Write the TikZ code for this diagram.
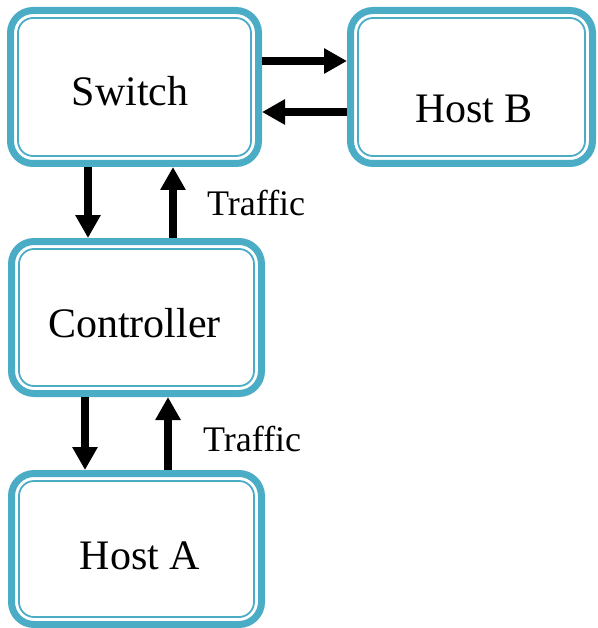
\documentclass[tikz,border=0pt]{standalone}
\usepackage{fontspec}
\setmainfont{Liberation Serif}
\usetikzlibrary{arrows.meta}
\definecolor{boxblue}{RGB}{75,172,198}
\tikzset{
  box/.style={draw=boxblue, line width=7pt, rounded corners=22.5pt, inner sep=0pt, fill=white,
    path picture={\draw[boxblue, line width=1.8pt, rounded corners=15pt]
      ([shift={(7.5pt,-7.5pt)}]path picture bounding box.north west) rectangle
      ([shift={(-7.5pt,7.5pt)}]path picture bounding box.south east);}},
  lbl/.style={anchor=base, inner sep=0pt, font=\fontsize{42}{50}\selectfont},
  tlbl/.style={anchor=base west, inner sep=0pt, font=\fontsize{36}{43}\selectfont},
  arr/.style={line width=7.5pt, -{Triangle[length=23pt,width=24pt]}}
}
\begin{document}
\begin{tikzpicture}[x=1pt,y=-1pt]
\useasboundingbox (0,0) rectangle (597,628);
\node[box, minimum width=248pt, minimum height=153pt] (sw) at (134.5,87) {};
\node[box, minimum width=242pt, minimum height=153pt] (hb) at (471.5,87) {};
\node[box, minimum width=250pt, minimum height=152pt] (ct) at (136.5,317.5) {};
\node[box, minimum width=250pt, minimum height=151pt] (ha) at (136.5,549) {};
\node[lbl] (swt) at (130,106) {Switch};
\node[lbl] (hbt) at (474,123) {Host B};
\node[lbl] (ctt) at (134.5,337) {Controller};
\node[lbl] (hat) at (140,569) {Host A};
\node[tlbl] (t1) at (207,215) {Traffic};
\node[tlbl] (t2) at (203,451) {Traffic};
\draw[arr] ([yshift=26pt]sw.east) -- ([yshift=26pt]hb.west);
\draw[arr] ([yshift=-25pt]hb.west) -- ([yshift=-25pt]sw.east);
\draw[arr] ([xshift=-46.5pt]sw.south) -- ([xshift=-48.5pt]ct.north);
\draw[arr] ([xshift=36.5pt]ct.north) -- ([xshift=38.5pt]sw.south);
\draw[arr] ([xshift=-51.5pt]ct.south) -- ([xshift=-51.5pt]ha.north);
\draw[arr] ([xshift=31.5pt]ha.north) -- ([xshift=31.5pt]ct.south);
\end{tikzpicture}
\end{document}
